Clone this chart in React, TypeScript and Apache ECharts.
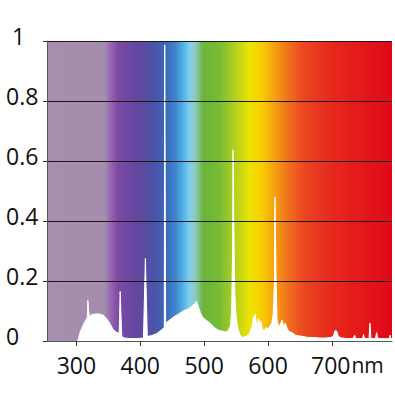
import React, { useEffect, useRef } from "react";
import * as echarts from "echarts";

// Emission spectrum (wavelength in nm, relative intensity)
const wavelengths = [
  302, 303.5, 306, 310, 314, 317, 318, 319, 320, 324, 330, 336, 342, 347, 352, 357, 362, 367,
  368.5, 369.5, 371, 375, 385, 395, 405, 408, 409, 411, 418, 426, 432,
  437.6, 438.3, 439.0, 439.7, 445, 452, 460, 467, 476, 482, 485, 488, 490, 494, 498,
  504, 510, 516, 522, 528, 534, 538, 541, 543, 544.5, 545.2, 546, 546.8, 548, 550, 553, 556,
  560, 565, 570, 575, 577, 579, 580, 581.5, 583, 585, 587, 589, 591, 594, 597, 600, 603, 606, 608,
  610, 610.8, 611.6, 612.5, 614, 617, 620, 622, 624, 627, 630, 634, 638, 642, 648, 655, 662,
  670, 680, 690, 698, 702, 704, 706, 708, 710, 715, 725, 733, 735.5, 737, 748, 749.5, 751,
  758, 759.5, 761, 768, 770, 772, 785, 790, 791, 792, 794,
];
const intensities = [
  0, 0.01, 0.03, 0.05, 0.068, 0.077, 0.135, 0.135, 0.082, 0.088, 0.09, 0.09, 0.086, 0.075, 0.06, 0.04, 0.03, 0.026,
  0.165, 0.165, 0.015, 0.01, 0.008, 0.008, 0.01, 0.275, 0.275, 0.015, 0.018, 0.025, 0.035,
  0.045, 0.987, 0.987, 0.06, 0.068, 0.08, 0.09, 0.1, 0.108, 0.118, 0.125, 0.132, 0.12, 0.095, 0.078,
  0.068, 0.058, 0.045, 0.036, 0.033, 0.03, 0.035, 0.05, 0.1, 0.3, 0.637, 0.637, 0.33, 0.16, 0.08, 0.04, 0.02,
  0.012, 0.015, 0.02, 0.05, 0.08, 0.082, 0.09, 0.06, 0.05, 0.075, 0.06, 0.065, 0.04, 0.035, 0.045, 0.04, 0.05, 0.06, 0.09,
  0.2, 0.48, 0.48, 0.2, 0.07, 0.045, 0.06, 0.07, 0.05, 0.06, 0.04, 0.03, 0.028, 0.02, 0.017, 0.015, 0.012,
  0.012, 0.01, 0.01, 0.012, 0.015, 0.03, 0.036, 0.03, 0.015, 0.01, 0.008, 0.008, 0.02, 0.008, 0.008, 0.022, 0.008,
  0.008, 0.06, 0.008, 0.008, 0.028, 0.008, 0.008, 0.008, 0.02, 0.008, 0.008,
];

const xMin = 254;
const xMax = 794;
const xTicks = [300, 400, 500, 600, 700];
const yTicks = [0, 0.2, 0.4, 0.6, 0.8, 1];

// Spectrum background colour stops (offset across the plot, colour)
const bgOffsets = [0, 0.168, 0.183, 0.206, 0.27, 0.313, 0.342, 0.374, 0.397, 0.414, 0.432, 0.452, 0.501, 0.545, 0.588, 0.623, 0.661, 0.704, 0.748, 0.82, 1];
const bgColors = [
  "#a68ead", "#a48cad", "#9a68b4", "#7c4aa2", "#5e48a0", "#4a55aa", "#3d66b8", "#3f86d0",
  "#52b8e6", "#86d0ec", "#8cc8b8", "#6cb43c", "#78bc34", "#b4d020", "#ece400", "#f8cc00",
  "#f5a010", "#f06a20", "#ea4520", "#e62a1c", "#e00818",
];

const FONT = "Open Sans";

export default function App() {
  const ref = useRef<HTMLDivElement>(null);

  useEffect(() => {
    if (!ref.current) return;
    const chart = echarts.init(ref.current, null, { renderer: "svg" });
    const emission = wavelengths.map((w, i) => [w, intensities[i]]);
    const gradient = new echarts.graphic.LinearGradient(
      0, 0, 1, 0,
      bgOffsets.map((o, i) => ({ offset: o, color: bgColors[i] }))
    );
    chart.setOption({
      animation: false,
      grid: { left: 47, right: 3, top: 41, bottom: 54, outerBoundsMode: "none" },
      xAxis: {
        type: "value",
        min: xMin,
        max: xMax,
        z: 5,
        splitLine: { show: false },
        axisLine: { show: true, lineStyle: { color: "#555", width: 1 } },
        axisTick: { show: true, length: 5, customValues: xTicks, lineStyle: { color: "#333" } },
        axisLabel: {
          customValues: xTicks,
          margin: 12,
          fontSize: 23,
          fontFamily: FONT,
          color: "#111",
          formatter: (v: number) => (v === 700 ? "{pad|}{n|700}{u|nm}" : String(v)),
          rich: {
            pad: { width: 31, fontSize: 21, fontFamily: FONT },
            n: { fontSize: 23, fontFamily: FONT, color: "#111" },
            u: { fontSize: 21, fontFamily: FONT, color: "#111", padding: [0, 0, 0, 1] },
          },
        },
      },
      yAxis: {
        type: "value",
        min: yTicks[0],
        max: yTicks[yTicks.length - 1],
        interval: 0.2,
        z: 5,
        axisLine: { show: true, lineStyle: { color: "#555", width: 1 } },
        axisTick: { show: true, length: 4, lineStyle: { color: "#333" } },
        splitLine: { show: true, lineStyle: { color: "#1a1a1a", width: 1 } },
        axisLabel: {
          align: "left",
          margin: 41,
          fontSize: 23,
          fontFamily: FONT,
          color: "#111",
          padding: [0, 0, 11, 0],
          formatter: (v: number) => (v === 1 ? "{one|1}" : String(Math.round(v * 10) / 10)),
          rich: {
            one: { fontSize: 23, fontFamily: FONT, color: "#111", padding: [0, 0, 0, 6] },
          },
        },
      },
      series: [
        {
          type: "line",
          z: 1,
          silent: true,
          data: [[xMin, 1], [xMax, 1]],
          symbol: "none",
          lineStyle: { width: 0 },
          areaStyle: { color: gradient, opacity: 1 },
        },
        {
          type: "line",
          z: 3,
          silent: true,
          data: emission,
          symbol: "none",
          lineStyle: { color: "#ffffff", width: 1 },
          areaStyle: { color: "#ffffff", opacity: 1 },
        },
      ],
    });
    return () => chart.dispose();
  }, []);

  return (
    <div
      ref={ref}
      style={{ position: "absolute", left: 0, top: 0, width: 395, height: 395, background: "#fff" }}
    />
  );
}
